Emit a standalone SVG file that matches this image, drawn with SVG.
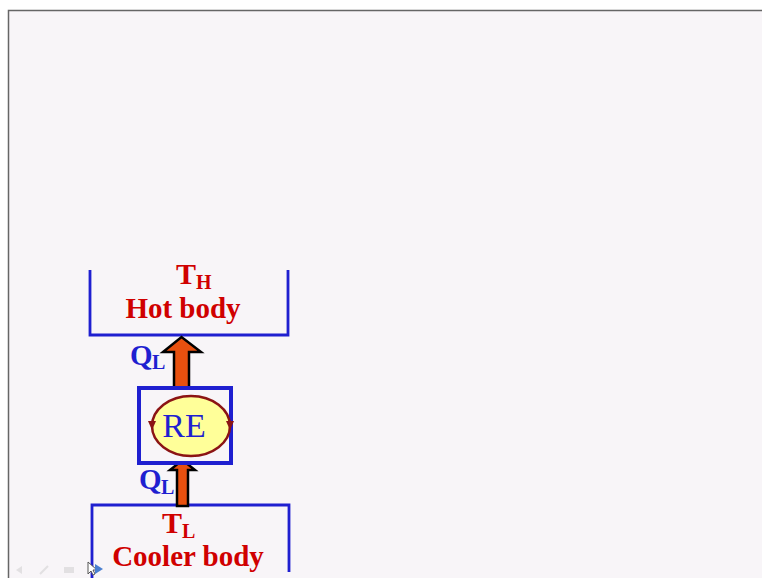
<svg xmlns="http://www.w3.org/2000/svg" width="762" height="578" viewBox="0 0 762 578">
<defs>
<style>
.blue{stroke:#1f1fd0;fill:none;stroke-width:2.8}
.lbl{font-family:"Liberation Serif","Times New Roman",serif;font-weight:bold}
.red{fill:#d00000}
.bl{fill:#1f1fd0}
.arrow{fill:#e8500f;stroke:#000;stroke-width:2.5;stroke-linejoin:miter}
</style>
</defs>
<rect x="0" y="0" width="762" height="578" fill="#ffffff"/>
<rect x="8" y="10" width="760" height="572" fill="#f8f5f8"/>
<path d="M8.5 578 V10.5 H762" fill="none" stroke="#666" stroke-width="1.5"/>

<g id="hot-body">
<path class="blue" d="M90 270 V335 H288 V270"/>
<text class="lbl red" x="176" y="284" font-size="30">T</text>
<text class="lbl red" x="196" y="289" font-size="20">H</text>
<text class="lbl red" x="183" y="318" font-size="29" text-anchor="middle">Hot body</text>
</g>

<g id="cooler-body">
<path class="blue" d="M92 578 V505 H289 V572"/>
<text class="lbl red" x="162" y="533" font-size="30">T</text>
<text class="lbl red" x="182" y="538" font-size="20">L</text>
<text class="lbl red" x="188" y="566" font-size="29" text-anchor="middle">Cooler body</text>
</g>

<g id="connectors">
<polygon class="arrow" points="174,388 174,352 163,352 181.5,337 201,352 189,352 189,388"/>
<polygon class="arrow" points="177,506 177,470 170,470 182.5,460 195,470 188,470 188,506"/>
<text class="lbl bl" x="130" y="365" font-size="29">Q</text>
<text class="lbl bl" x="152" y="369" font-size="20">L</text>
<text class="lbl bl" x="139" y="489" font-size="29">Q</text>
<text class="lbl bl" x="161" y="494" font-size="20">L</text>
</g>

<g id="re">
<rect x="139" y="388" width="92" height="75" fill="#f8f5f8" stroke="#1f1fd0" stroke-width="4"/>
<ellipse cx="191" cy="426" rx="39" ry="30" fill="#ffff99" stroke="#8b1414" stroke-width="2.5"/>
<polygon points="148,421 156,421 152,430" fill="#8b1414"/>
<polygon points="226,421 234,421 230,430" fill="#8b1414"/>
<text x="184" y="437" font-family="Liberation Serif,Times New Roman,serif" font-size="34" fill="#1f1fd0" text-anchor="middle">RE</text>
</g>

<g id="nav" opacity="0.35">
<path d="M16 570 l6 -4 v8 z" fill="#bbb"/>
<path d="M40 574 l8 -8" stroke="#bbb" stroke-width="2"/>
<rect x="64" y="567" width="10" height="6" fill="#bbb"/>
</g>
<g id="cursor">
<path d="M88 562 v12 l3 -3 l2 4 l2 -1 l-2 -4 h4 z" fill="#fff" stroke="#555" stroke-width="1"/>
<path d="M95 564 l8 5 l-8 5 z" fill="#4a7fd0"/>
</g>
</svg>
